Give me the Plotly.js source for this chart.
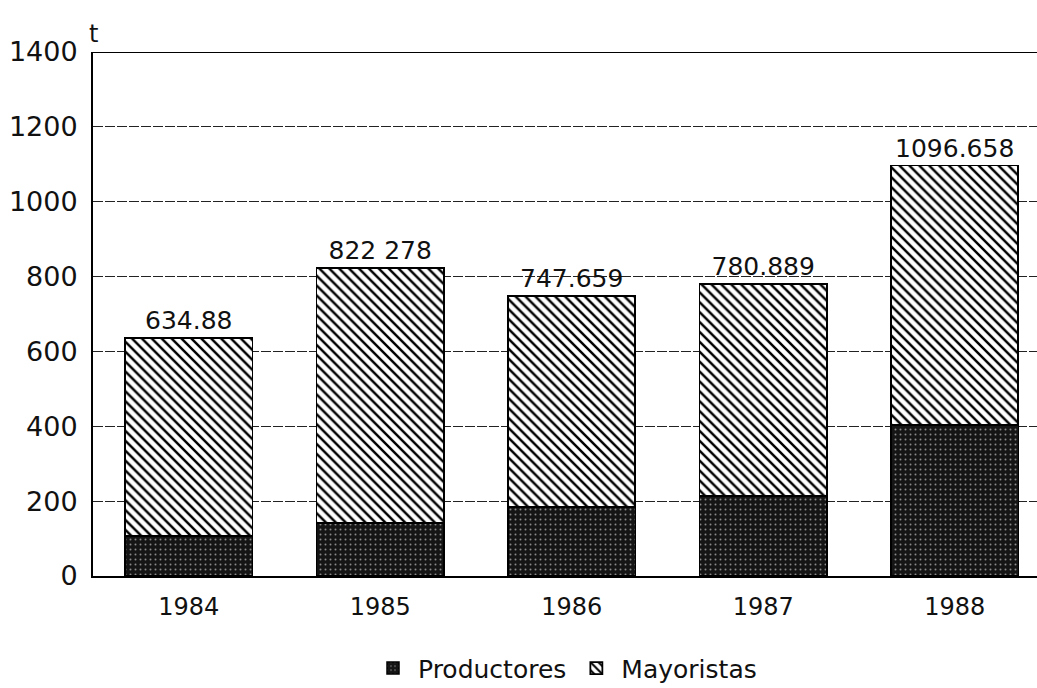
<!DOCTYPE html>
<html>
<head>
<meta charset="utf-8">
<script src="https://cdn.plot.ly/plotly-3.0.1.min.js"></script>
<style>html,body{margin:0;padding:0;background:#fff;}#chart{width:1037px;height:688px;}</style>
</head>
<body>
<div id="chart"></div>
<script>
const years = ['1984', '1985', '1986', '1987', '1988'];
const productores = [107, 142, 184, 214, 403];
const totals = [634.88, 822.278, 747.659, 780.889, 1096.658];
const totalLabels = ['634.88', '822 278', '747.659', '780.889', '1096.658'];
const mayoristas = totals.map((t, i) => +(t - productores[i]).toFixed(3));
const yTicks = [0, 200, 400, 600, 800, 1000, 1200, 1400];

const FONT = 'DejaVu Sans, Liberation Sans, sans-serif';

const traces = [
  {
    type: 'bar', name: 'Productores', x: years, y: productores,
    width: 0.665,
    marker: {
      color: '#151515',
      line: {color: '#000', width: 1.5},
      pattern: {shape: '.', fgcolor: '#8a8a8a', bgcolor: '#151515', size: 5, solidity: 0.12}
    },
    hoverinfo: 'x+y'
  },
  {
    type: 'bar', name: 'Mayoristas', x: years, y: mayoristas,
    width: 0.665,
    text: totalLabels, textposition: 'outside', textangle: 0,
    constraintext: 'none', cliponaxis: false,
    textfont: {family: FONT, size: 25, color: '#111'},
    marker: {
      color: '#fff',
      line: {color: '#000', width: 1.8},
      pattern: {shape: '\\', fgcolor: '#000', bgcolor: '#fff', size: 7, solidity: 0.35}
    },
    hoverinfo: 'x+y'
  }
];

const layout = {
  width: 1037, height: 688,
  margin: {l: 93, r: 0, t: 52, b: 112, autoexpand: false},
  paper_bgcolor: '#fff', plot_bgcolor: '#fff',
  barmode: 'stack',
  font: {family: FONT, color: '#111'},
  showlegend: true,
  legend: {
    orientation: 'h', x: 0.5, xanchor: 'center',
    yref: 'container', y: 0.062, yanchor: 'top',
    font: {family: FONT, size: 25, color: '#111'},
    itemwidth: 40, traceorder: 'normal'
  },
  xaxis: {
    type: 'category', range: [-0.5, 4.43],
    showgrid: false, showline: true, linecolor: '#000', linewidth: 2,
    ticks: '', tickfont: {family: FONT, size: 24, color: '#111'},
    ticklabelstandoff: 8, zeroline: false
  },
  yaxis: {
    range: [0, 1400], tickvals: yTicks, ticktext: yTicks.map(String),
    showline: true, linecolor: '#000', linewidth: 2,
    showgrid: true, gridcolor: '#222', gridwidth: 1.2, griddash: '10px,2px',
    zeroline: false, ticks: '',
    tickfont: {family: FONT, size: 27, color: '#111'},
    ticklabelstandoff: 8
  },
  shapes: [
    {type: 'line', xref: 'paper', yref: 'y', x0: 0, x1: 1, y0: 1400, y1: 1400, line: {color: '#000', width: 2}}
  ],
  annotations: [
    {xref: 'paper', yref: 'paper', x: 0, y: 1, xanchor: 'center', yanchor: 'bottom', yshift: 2,
     text: 't', showarrow: false, font: {family: FONT, size: 24, color: '#111'}}
  ]
};

Plotly.newPlot('chart', traces, layout, {displayModeBar: false, staticPlot: true});
</script>
</body>
</html>
